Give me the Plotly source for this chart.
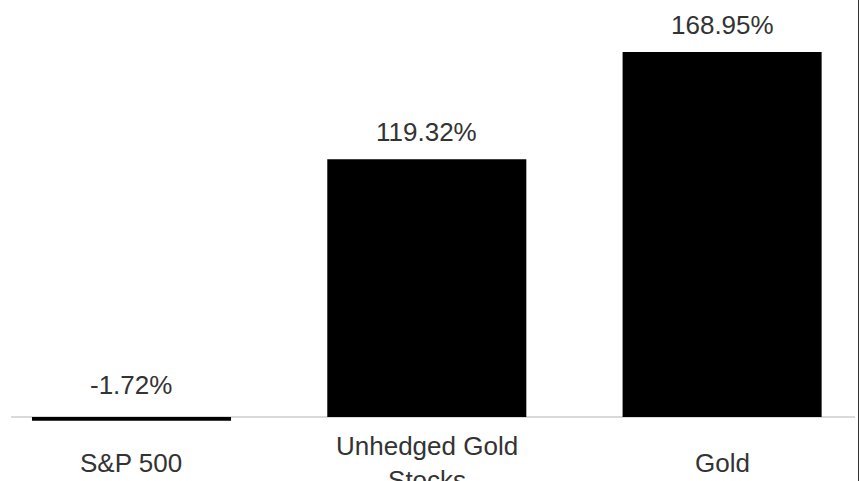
import plotly.graph_objects as go

categories = ["S&P 500", "Unhedged Gold Stocks", "Gold"]
tick_labels = ["S&P 500", "Unhedged Gold<br>Stocks", "Gold"]
values = [-1.72, 119.32, 168.95]

W, H = 859, 481
ML, MR, MT, MB = 11, 4, 0, 51
plot_w = W - ML - MR
plot_h = H - MT - MB

FONT = "Liberation Sans, Arial, sans-serif"
TXT = "#333333"

fig = go.Figure()
fig.add_trace(go.Bar(
    x=categories, y=values,
    marker=dict(color="#000000", line=dict(width=0)),
    hoverinfo="skip",
))

annotations = []
for c, v in zip(categories, values):
    annotations.append(dict(
        x=c, y=max(v, 0), xref="x", yref="y",
        text=f"{v:.2f}%", showarrow=False,
        yanchor="bottom", yshift=10 if v >= 0 else 15,
        font=dict(family=FONT, size=26, color=TXT),
    ))
for c, lab in zip(categories, tick_labels):
    annotations.append(dict(
        x=c, y=0, xref="x", yref="paper",
        text=lab, showarrow=False,
        yanchor="middle", yshift=-33,
        font=dict(family=FONT, size=26, color=TXT),
    ))

fig.update_layout(
    width=W, height=H,
    margin=dict(l=ML, r=MR, t=MT, b=MB, pad=0),
    paper_bgcolor="white", plot_bgcolor="white",
    bargap=0.326,
    showlegend=False,
    annotations=annotations,
    xaxis=dict(range=[-0.408, 2.450], showticklabels=False, showgrid=False,
               zeroline=False, showline=False, ticks=""),
    yaxis=dict(range=[-6.02, 193.02], showticklabels=False, showgrid=False,
               zeroline=True, zerolinecolor="#d9d9d9", zerolinewidth=1.5,
               showline=False, ticks=""),
    shapes=[dict(type="line", xref="paper", yref="paper",
                 x0=(858.5 - ML) / plot_w, x1=(858.5 - ML) / plot_w,
                 y0=-0.2, y1=1.1, line=dict(color="#333333", width=1))],
)

fig.write_html("out.html")
